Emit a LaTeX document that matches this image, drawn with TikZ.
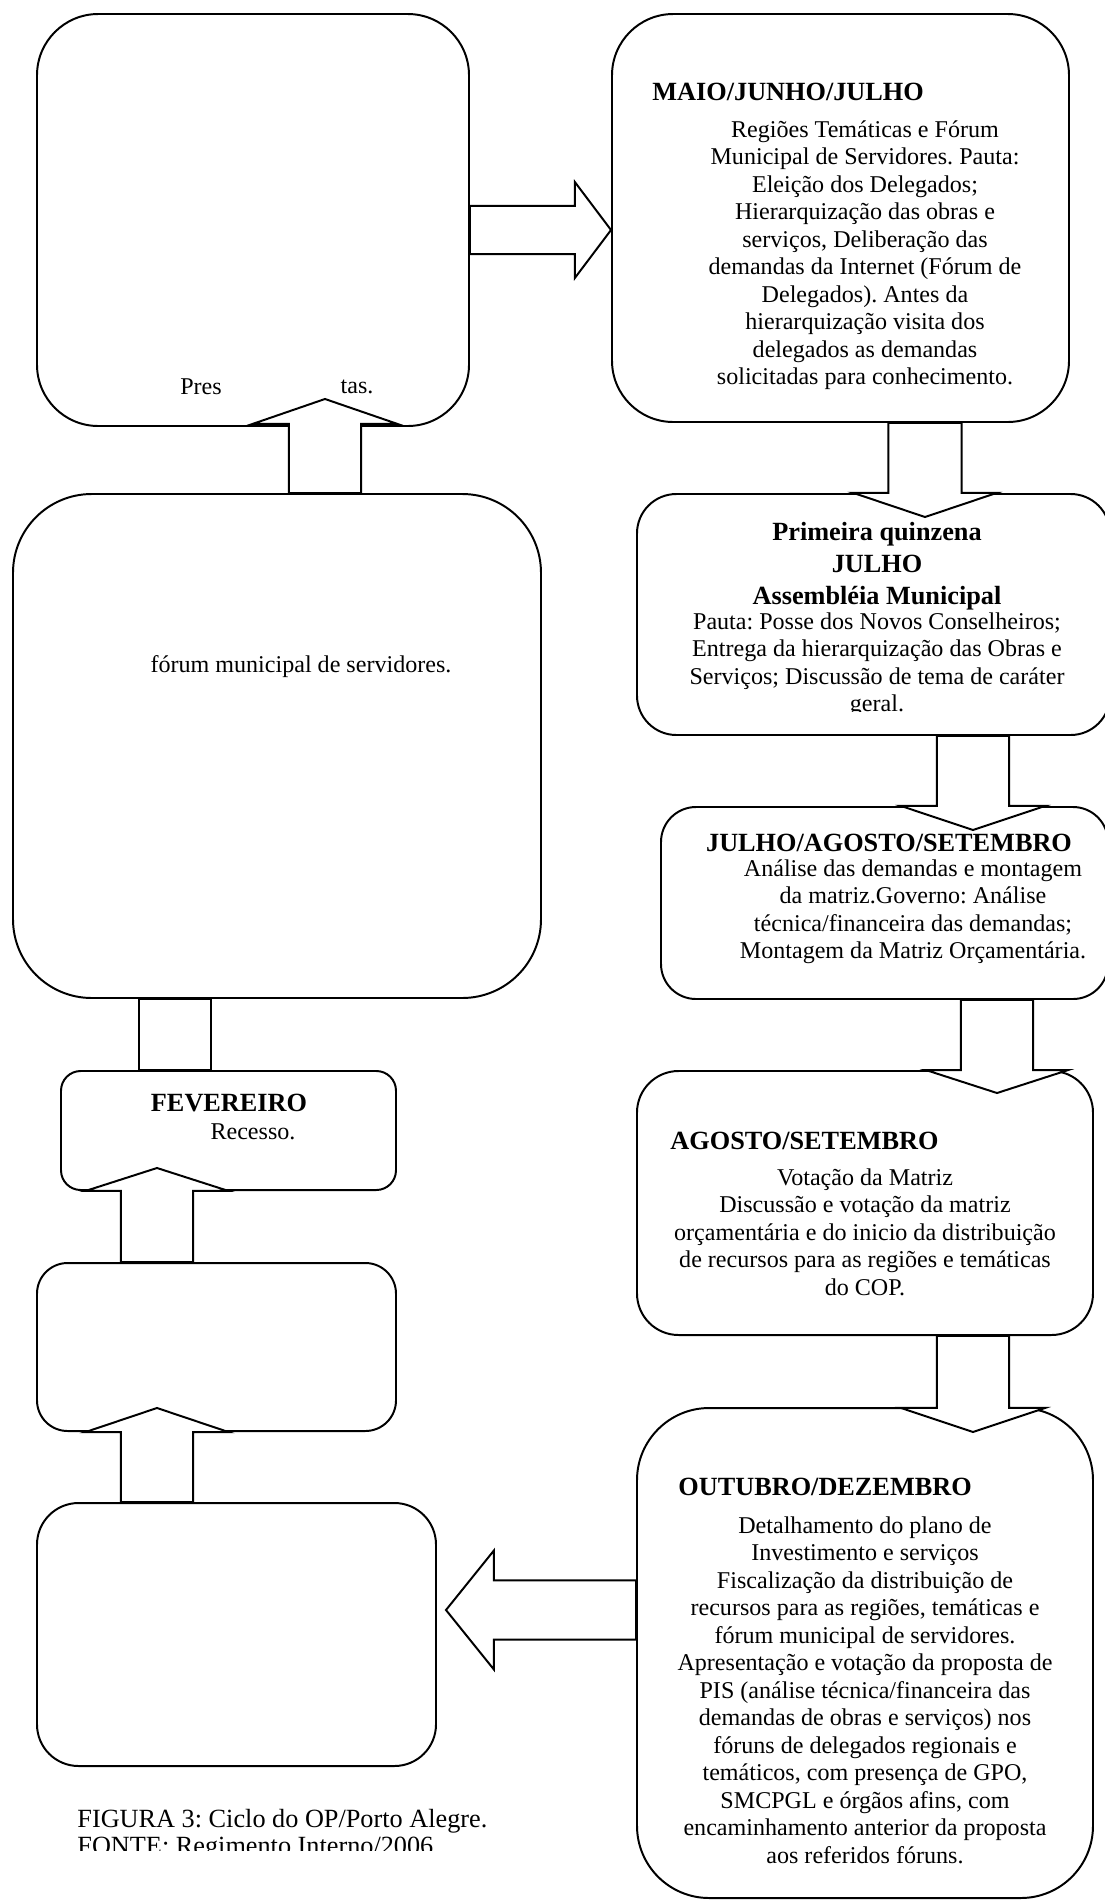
\documentclass[tikz,border=0pt]{standalone}
\usepackage{fontspec}
\setmainfont{Liberation Serif}
\usetikzlibrary{calc,fit}
\frenchspacing

\tikzset{
  stagebox/.style={draw, line width=0.9pt, fill=white, inner sep=0pt, rounded corners=#1},
  blockarrow/.style={draw, line width=0.9pt, fill=white},
  boxtext/.style={align=center, inner sep=0pt, font=\fontsize{11}{12.57}\selectfont},
  boxtitle/.style={align=center, inner sep=0pt, font=\fontsize{12}{14.6}\selectfont\bfseries},
  captext/.style={align=left, inner sep=0pt, font=\fontsize{12}{12.3}\selectfont},
}

% block arrow: start, tip, shaft half width, head half width, head length
\newcommand{\blockarrow}[5]{%
  \coordinate (ba-s) at (#1);
  \coordinate (ba-t) at (#2);
  \coordinate (ba-h) at ($(ba-t)!#5!(ba-s)$);
  \draw[blockarrow] ($(ba-s)!#3!90:(ba-t)$) -- ($(ba-h)!#3!90:(ba-t)$)
    -- ($(ba-h)!#4!90:(ba-t)$) -- (ba-t) -- ($(ba-h)!#4!-90:(ba-t)$)
    -- ($(ba-h)!#3!-90:(ba-t)$) -- ($(ba-s)!#3!-90:(ba-t)$) -- cycle;
}

\begin{document}
\begin{tikzpicture}[x=0.457pt, y=-0.457pt]
    \path[use as bounding box, fill=white] (0,0) rectangle (1105,1904);

    % left column
    \node[stagebox=28pt, fit={(37,14) (469,426)}] (A) {};
    \node[stagebox=36pt, fit={(13,494) (541,998)}] (B) {};
    \node[stagebox=9pt, fit={(61,1071) (396,1190)}] (fev) {};
    \node[stagebox=14pt, fit={(37,1263) (396,1431)}] (C) {};
    \node[stagebox=19pt, fit={(37,1503) (436,1766)}] (D) {};

    % right column
    \node[stagebox=28pt, fit={(612,14) (1069,422)}] (maio) {};
    \node[stagebox=18pt, fit={(637,494) (1110,735)}] (prim) {};
    \node[stagebox=16pt, fit={(661,807) (1108,999)}] (jas) {};
    \node[stagebox=19pt, fit={(637,1071) (1093,1335)}] (as) {};
    \node[stagebox=33pt, fit={(637,1408) (1093,1898)}] (od) {};

    % arrows of the cycle
    \blockarrow{$(A.east)+(0,10)$}{$(maio.west)+(0,12)$}{11pt}{21.9pt}{16.5pt}
    \blockarrow{$(maio.south)+(84.5,0)$}{$(prim.north)+(51.5,24)$}{16.7pt}{32.7pt}{11pt}
    \blockarrow{$(prim.south)+(99.5,0)$}{$(jas.north)+(88.5,24)$}{16.5pt}{32.9pt}{11pt}
    \blockarrow{$(jas.south)+(112.5,0)$}{$(as.north)+(132,23)$}{16.5pt}{32.5pt}{10.5pt}
    \blockarrow{$(as.south)+(108,0)$}{$(od.north)+(108,25)$}{16.5pt}{32.9pt}{11pt}
    \blockarrow{$(od.west)+(0,-43)$}{$(D.east)+(9,-24.5)$}{13.5pt}{27.2pt}{21.9pt}
    \blockarrow{$(D.north)+(-79.5,0)$}{$(C.south)+(-59.5,-24)$}{16.5pt}{32.7pt}{11pt}
    \blockarrow{$(C.north)+(-59.5,0)$}{$(fev.south)+(-71.5,-23)$}{16.5pt}{32.7pt}{10.5pt}
    \draw[blockarrow] ($(fev.north)+(-89.5,0)$) rectangle ($(B.south)+(-66,0)$);
    \blockarrow{$(B.north)+(48,0)$}{$(A.south)+(72,-28)$}{16.5pt}{33.1pt}{11.4pt}

    % texts
    \node[boxtext] (pres) at (201,387) {Pres};
    \node[boxtext] (tas) at (357,387) {tas.};
    \node[boxtext] (forum) at (301,667) {fórum municipal de servidores.};
    \node[boxtitle] (fevtitle) at (229,1103) {FEVEREIRO};
    \node[boxtext] (fevtxt) at (253,1132) {Recesso.};

    \node[boxtitle, anchor=west] (maiotitle) at (652,92) {MAIO/JUNHO/JULHO};
    \node[boxtext, anchor=north] (maiotxt) at (865,120) {Regiões Temáticas e Fórum\\
      Municipal de Servidores. Pauta:\\ Eleição dos Delegados;\\
      Hierarquização das obras e\\ serviços, Deliberação das\\
      demandas da Internet (Fórum de\\ Delegados). Antes da\\
      hierarquização visita dos\\ delegados as demandas\\
      solicitadas para conhecimento.};

    \node[boxtitle, anchor=north] (primtitle) at (877,522) {Primeira quinzena\\ JULHO\\ Assembléia Municipal};
    \begin{scope}
      \clip (600,600) rectangle (1105,711);
      \node[boxtext, anchor=north] (primtxt) at (877,612) {Pauta: Posse dos Novos Conselheiros;\\
        Entrega da hierarquização das Obras e\\ Serviços; Discussão de tema de caráter\\ geral.};
    \end{scope}

    \node[boxtitle] (jastitle) at (889,843) {JULHO/AGOSTO/SETEMBRO};
    \node[boxtext, anchor=north] (jastxt) at (913,859) {Análise das demandas e montagem\\
      da matriz.Governo: Análise\\ técnica/financeira das demandas;\\
      Montagem da Matriz Orçamentária.};

    \node[boxtitle, anchor=west] (astitle) at (670,1141) {AGOSTO/SETEMBRO};
    \node[boxtext, anchor=north] (astxt) at (865,1168) {Votação da Matriz\\
      Discussão e votação da matriz\\ orçamentária e do inicio da distribuição\\
      de recursos para as regiões e temáticas\\ do COP.};

    \node[boxtitle, anchor=west] (odtitle) at (678,1487) {OUTUBRO/DEZEMBRO};
    \node[boxtext, anchor=north] (odtxt) at (865,1516) {Detalhamento do plano de\\
      Investimento e serviços\\ Fiscalização da distribuição de\\
      recursos para as regiões, temáticas e\\ fórum municipal de servidores.\\
      Apresentação e votação da proposta de\\ PIS (análise técnica/financeira das\\
      demandas de obras e serviços) nos\\ fóruns de delegados regionais e\\
      temáticos, com presença de GPO,\\ SMCPGL e órgãos afins, com\\
      encaminhamento anterior da proposta\\ aos referidos fóruns.};

    % caption
    \begin{scope}
      \clip (0,1790) rectangle (600,1850);
      \node[captext, anchor=north west] (caption) at (77,1809) {FIGURA 3: Ciclo do OP/Porto Alegre.\\
        FONTE: Regimento Interno/2006.};
    \end{scope}
\end{tikzpicture}
\end{document}
